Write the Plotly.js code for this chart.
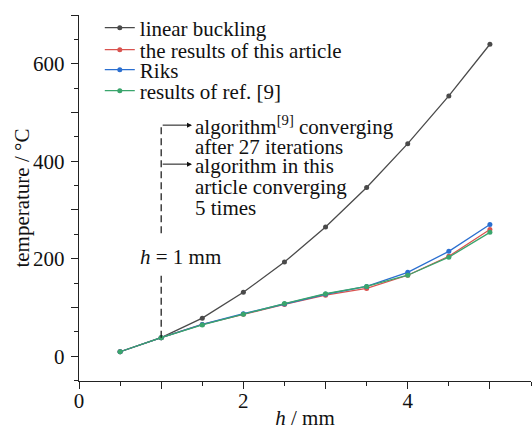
<!DOCTYPE html>
<html>
<head>
<meta charset="utf-8">
<script src="https://cdn.plot.ly/plotly-3.0.1.min.js"></script>
<style>html,body{margin:0;padding:0;background:#fff;}#chart{width:532px;height:430px;}</style>
</head>
<body>
<div id="chart"></div>
<script>
const h = [0.5, 1, 1.5, 2, 2.5, 3, 3.5, 4, 4.5, 5];
const linearBuckling = [9, 38, 78, 131, 193, 265, 346, 436, 534, 640];
const thisArticle = [9, 38, 65, 86, 106, 125, 139, 166, 205, 260];
const riks = [9, 38, 65, 87, 107, 127, 143, 172, 215, 270];
const refNine = [9, 38, 64, 86, 108, 128, 143, 166, 203, 254];
const seriesNames = ['linear buckling', 'the results of this article', 'Riks', 'results of ref. [9]'];
const xTickVals = [0, 1, 2, 3, 4, 5];
const xTickText = ['0', '', '2', '', '4', ''];
const yTickVals = [0, 100, 200, 300, 400, 500, 600, 700];
const yTickText = ['0', '', '200', '', '400', '', '600', ''];

const colors = ['#4a4a4a', '#d9534f', '#2b6fd0', '#3aa56c'];
const ys = [linearBuckling, thisArticle, riks, refNine];
const font = 'Liberation Serif, Times New Roman, serif';
const FS = 21;
const legendNames = ['legend', 'legend2', 'legend3', 'legend4'];
const legendY = [0.9645, 0.9044, 0.8497, 0.7923];

const traces = ys.map((y, i) => ({
  x: h, y: y, name: seriesNames[i], type: 'scatter', mode: 'lines+markers',
  legend: legendNames[i],
  line: {color: colors[i], width: 1.3},
  marker: {color: colors[i], size: 5}
}));

const ann = [];
function txt(x, y, t, anchor) {
  ann.push({x: x, y: y, xref: 'x', yref: 'y', text: t, showarrow: false,
    xanchor: anchor || 'left', yanchor: 'middle', font: {family: font, size: FS, color: '#111'}});
}
function arrow(x0, x1, y) {
  ann.push({x: x1, y: y, ax: x0, ay: y, xref: 'x', yref: 'y', axref: 'x', ayref: 'y',
    text: '', showarrow: true, arrowhead: 2, arrowsize: 1, arrowwidth: 1, arrowcolor: '#111'});
}
arrow(1, 1.375, 474);
arrow(1, 1.375, 394);
txt(1.39, 474, 'algorithm<sup>[9]</sup> converging');
txt(1.39, 430, 'after 27 iterations');
txt(1.39, 391, 'algorithm in this');
txt(1.39, 347, 'article converging');
txt(1.39, 304, '5 times');
txt(1.23, 203, '<i>h</i> = 1 mm', 'center');
// y-axis title, placed as rotated text left of the tick labels
ann.push({xref: 'paper', yref: 'paper', x: -0.127, y: 0.5, xanchor: 'center', yanchor: 'middle',
  text: 'temperature / °C', textangle: -90, showarrow: false,
  font: {family: font, size: FS, color: '#111'}});

const layout = {
  width: 532, height: 430,
  margin: {l: 79, r: 1, t: 15, b: 49},
  paper_bgcolor: '#fff', plot_bgcolor: '#fff',
  font: {family: font, size: FS, color: '#111'},
  showlegend: true,
  xaxis: {range: [0, 5.5], showgrid: false, zeroline: false, showline: true, linecolor: '#222', linewidth: 1.2,
    ticks: 'outside', ticklen: 7, tickcolor: '#222', tickvals: xTickVals, ticktext: xTickText,
    ticklabelstandoff: -6,
    minor: {dtick: 0.5, ticks: 'outside', ticklen: 4, tickcolor: '#222', showgrid: false},
    title: {text: '<i>h</i> / mm', font: {family: font, size: FS}, standoff: 14},
    tickfont: {family: font, size: FS}},
  yaxis: {range: [-51, 700], showgrid: false, zeroline: false, showline: true, linecolor: '#222', linewidth: 1.2,
    ticks: 'outside', ticklen: 7, tickcolor: '#222', tickvals: yTickVals, ticktext: yTickText,
    ticklabelstandoff: 2,
    minor: {dtick: 50, ticks: 'outside', ticklen: 4, tickcolor: '#222', showgrid: false},
    tickfont: {family: font, size: FS}},
  shapes: [
    {type: 'line', xref: 'x', yref: 'y', x0: 1, x1: 1, y0: 38, y1: 170, line: {color: '#111', width: 1.2, dash: '7px,4px'}},
    {type: 'line', xref: 'x', yref: 'y', x0: 1, x1: 1, y0: 252, y1: 476, line: {color: '#111', width: 1.2, dash: '7px,4px'}}
  ],
  annotations: ann
};
legendNames.forEach((ln, i) => {
  layout[ln] = {x: 0.046, y: legendY[i], xanchor: 'left', yanchor: 'middle', bgcolor: 'rgba(0,0,0,0)',
    font: {family: font, size: FS, color: '#111'}, itemwidth: 30};
});
Plotly.newPlot('chart', traces, layout, {displayModeBar: false, staticPlot: true});
</script>
</body>
</html>
